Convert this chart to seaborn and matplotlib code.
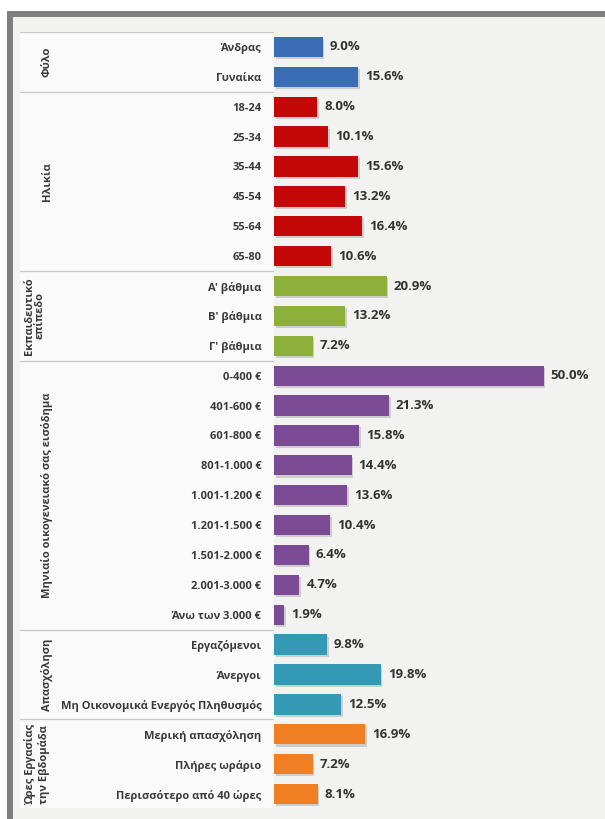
import matplotlib
matplotlib.use("Agg")
import matplotlib.pyplot as plt
import matplotlib.patheffects as pe
from matplotlib.patches import Rectangle
import seaborn as sns
import pandas as pd

# ---- data ----
gender_labels = ["Άνδρας", "Γυναίκα"]
gender_values = [9.0, 15.6]

age_labels = ["18-24", "25-34", "35-44", "45-54", "55-64", "65-80"]
age_values = [8.0, 10.1, 15.6, 13.2, 16.4, 10.6]

edu_labels = ["Α' βάθμια", "Β' βάθμια", "Γ' βάθμια"]
edu_values = [20.9, 13.2, 7.2]

income_labels = ["0-400 €", "401-600 €", "601-800 €", "801-1.000 €", "1.001-1.200 €",
                 "1.201-1.500 €", "1.501-2.000 €", "2.001-3.000 €", "Άνω των 3.000 €"]
income_values = [50.0, 21.3, 15.8, 14.4, 13.6, 10.4, 6.4, 4.7, 1.9]

work_labels = ["Εργαζόμενοι", "Άνεργοι", "Μη Οικονομικά Ενεργός Πληθυσμός"]
work_values = [9.8, 19.8, 12.5]

hours_labels = ["Μερική απασχόληση", "Πλήρες ωράριο", "Περισσότερο από 40 ώρες"]
hours_values = [16.9, 7.2, 8.1]

group_names = ["Φύλο", "Ηλικία", "Εκπαιδευτικό\nεπίπεδο",
               "Μηνιαίο οικογενειακό σας εισόδημα", "Απασχόληση",
               "Ώρες Εργασίας\nτην Εβδομάδα"]
group_colors = ["#3a6db6", "#c40808", "#8db03a", "#7b4c95", "#3399b4", "#f07f24"]

group_labels = [gender_labels, age_labels, edu_labels, income_labels, work_labels, hours_labels]
group_values = [gender_values, age_values, edu_values, income_values, work_values, hours_values]

rows = []
for g, labs, vals in zip(group_names, group_labels, group_values):
    for lab, v in zip(labs, vals):
        rows.append({"category": lab, "value": v, "group": g})
df = pd.DataFrame(rows)

# ---- figure ----
sns.set_theme(style="white")
plt.rcParams["font.family"] = ["Open Sans", "DejaVu Sans"]

W, H = 605, 819
fig = plt.figure(figsize=(W / 100, H / 100), dpi=100)
fig.patch.set_facecolor("white")

def fx(px):
    return px / W

def fy(py):
    return 1 - py / H

# page background and grey frame
fig.patches.append(Rectangle((fx(7), 0), fx(W - 7), fy(11), transform=fig.transFigure,
                             facecolor="#f2f2f0", edgecolor="none", zorder=-10))
fig.patches.append(Rectangle((fx(7), fy(17)), fx(W - 7), fy(11) - fy(17), transform=fig.transFigure,
                             facecolor="#7f7f7f", edgecolor="none", zorder=-9))
fig.patches.append(Rectangle((fx(7), 0), fx(6), fy(11), transform=fig.transFigure,
                             facecolor="#7f7f7f", edgecolor="none", zorder=-9))

top_px, bot_px = 32, 809
n = len(df)
ax = fig.add_axes([fx(274), fy(bot_px), fx(603) - fx(274), fy(top_px) - fy(bot_px)])
panel = fig.add_axes([fx(20), fy(bot_px), fx(274) - fx(20), fy(top_px) - fy(bot_px)])

sns.barplot(data=df, y="category", x="value", hue="group", palette=group_colors,
            dodge=False, legend=False, width=0.68, saturation=1, linewidth=0, ax=ax)

ax.set_xlim(0, 61)
ax.set_ylim(n - 0.5, -0.5)
ax.set_facecolor("none")
for s in ax.spines.values():
    s.set_visible(False)
ax.set_xticks([])
ax.set_xlabel("")
ax.set_ylabel("")
ax.tick_params(axis="y", length=0, pad=9)
for t in ax.get_yticklabels():
    t.set_fontsize(8)
    t.set_fontweight("bold")
    t.set_color("#3a3a3a")

for p in ax.patches:
    p.set_edgecolor("none")
    p.set_path_effects([pe.SimplePatchShadow(offset=(1.2, -1.5), alpha=0.3, shadow_rgbFace="#7a7a7a"),
                        pe.Normal()])

for i, v in enumerate(df["value"]):
    ax.text(v + 1.3, i, f"{v:.1f}%", va="center", ha="left", fontsize=9.5,
            fontweight="bold", color="#333333")

# category panel with group separators
panel.set_xlim(0, 1)
panel.set_ylim(n - 0.5, -0.5)
panel.set_facecolor("#fafafa")
panel.set_zorder(-1)
for s in panel.spines.values():
    s.set_visible(False)
panel.set_xticks([])
panel.set_yticks([])
panel.axvline(1, color="#dddddd", lw=0.8)

label_x = {"Εκπαιδευτικό\nεπίπεδο": 0.058, "Ώρες Εργασίας\nτην Εβδομάδα": 0.068}
label_ls = {"Εκπαιδευτικό\nεπίπεδο": 0.95, "Ώρες Εργασίας\nτην Εβδομάδα": 1.25}

start = 0
for g, labs in zip(group_names, group_labels):
    end = start + len(labs)
    panel.axhline(start - 0.5, color="#c8c8c8", lw=0.9)
    panel.text(label_x.get(g, 0.107), (start + end - 1) / 2, g, rotation=90,
               ha="center", va="center", multialignment="center",
               fontsize=8, fontweight="bold", color="#3a3a3a",
               linespacing=label_ls.get(g, 1.0))
    start = end
panel.axhline(n - 0.5, color="#c8c8c8", lw=0.9)

fig.savefig("out.png", dpi=100, facecolor=fig.get_facecolor())
